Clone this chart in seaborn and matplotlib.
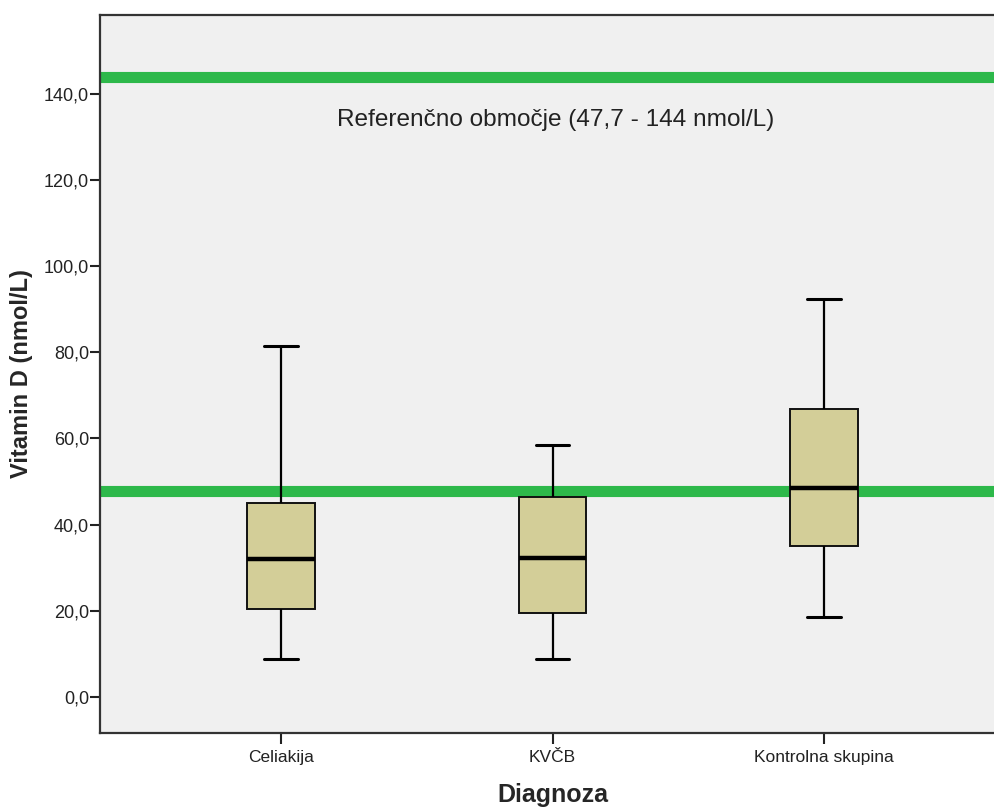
import numpy as np
import pandas as pd
import matplotlib
matplotlib.use("Agg")
import matplotlib.pyplot as plt
import seaborn as sns

# Diagnostic groups and their five-number summaries (min, Q1, median, Q3, max), nmol/L
groups = ["Celiakija", "KVČB", "Kontrolna skupina"]
celiakija = [8.8, 20.3, 32.0, 45.0, 81.4]
kvcb = [8.8, 19.4, 32.3, 46.4, 58.5]
kontrolna = [18.5, 35.1, 48.5, 66.9, 92.3]

# Reference range for vitamin D
ref_low = 47.7
ref_high = 144.0
ref_text = "Referenčno območje (47,7 - 144 nmol/L)"

y_ticks = [0, 20, 40, 60, 80, 100, 120, 140]
y_tick_labels = ["0,0", "20,0", "40,0", "60,0", "80,0", "100,0", "120,0", "140,0"]

df = pd.DataFrame({
    "Diagnoza": np.repeat(groups, 5),
    "Vitamin D": celiakija + kvcb + kontrolna,
})

sns.set_style("white")
plt.rcParams["font.family"] = ["Liberation Sans", "DejaVu Sans"]

fig = plt.figure(figsize=(9.94, 8.09), dpi=100)
ax = fig.add_axes([100 / 994, 1 - 733 / 809, 905 / 994, (733 - 15) / 809])
ax.set_facecolor("#f0f0f0")

green = "#2db84a"
ax.axhline(ref_high, color=green, lw=8, zorder=1)
ax.axhline(ref_low, color=green, lw=8, zorder=1)

sns.boxplot(
    data=df, x="Diagnoza", y="Vitamin D", order=groups, ax=ax,
    color="#d3ce98", saturation=1, width=0.25, whis=(0, 100),
    linecolor="black", linewidth=1.4,
    boxprops={"zorder": 3, "edgecolor": "#111111"},
    medianprops={"linewidth": 3.2, "color": "black", "zorder": 4},
    whiskerprops={"linewidth": 1.6, "zorder": 3},
    capprops={"linewidth": 2.2, "zorder": 3},
)

ax.text(1.01, 134, ref_text, ha="center", va="center", fontsize=17.6,
        color="#222222", zorder=5)

ax.set_xlim(-0.667, 2.667)
ax.set_ylim(-8.43, 158.35)
ax.set_yticks(y_ticks)
ax.set_yticklabels(y_tick_labels)

ax.tick_params(axis="y", direction="out", length=7, width=1.5, pad=1,
               labelsize=13, colors="#222222", left=True)
ax.tick_params(axis="x", direction="out", length=8, width=1.5, pad=4,
               labelsize=12.5, colors="#222222", bottom=True)

for side in ["left", "bottom", "top"]:
    ax.spines[side].set_visible(True)
    ax.spines[side].set_color("#333333")
    ax.spines[side].set_linewidth(1.6)
ax.spines["right"].set_visible(False)

ax.set_ylabel("Vitamin D (nmol/L)", fontsize=17, fontweight="bold", labelpad=8)
ax.set_xlabel("Diagnoza", fontsize=18, fontweight="bold", labelpad=13)

fig.savefig("out.png", dpi=100)
